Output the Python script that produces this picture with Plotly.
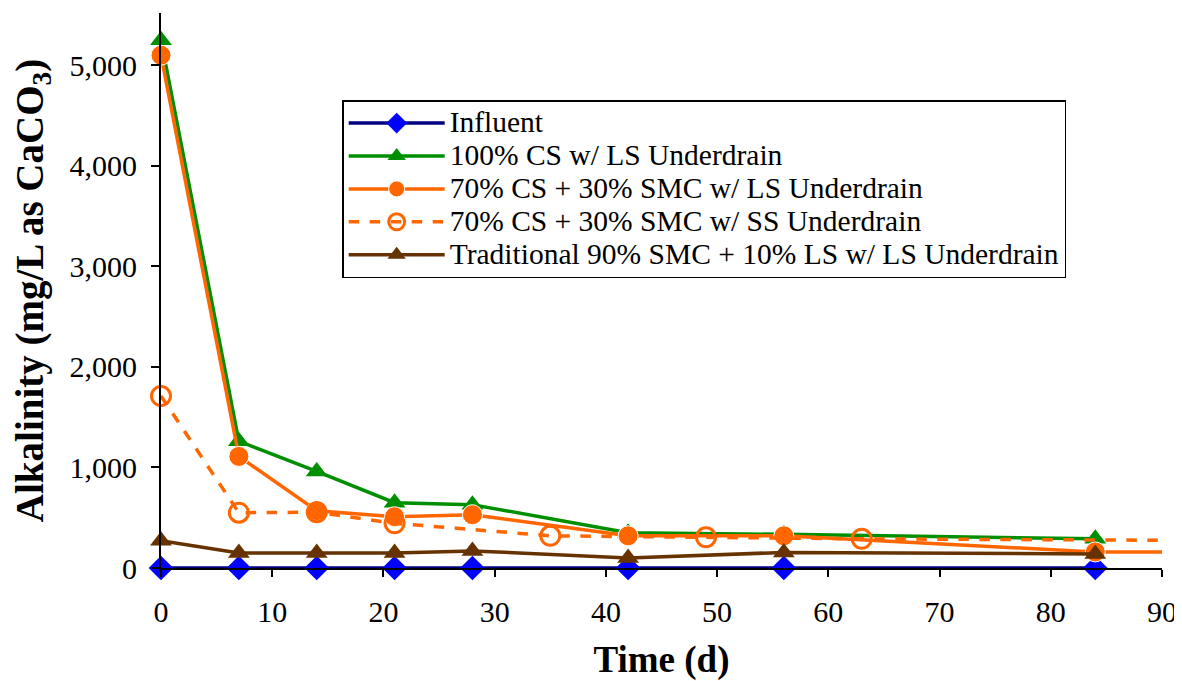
import plotly.graph_objects as go

days_main = [0, 7, 14, 21, 28, 42, 56, 84]
influent = [0, 0, 0, 0, 0, 0, 0, 0]
cs100_ls = [5250, 1260, 960, 650, 630, 350, 335, 290]
trad_ls = [270, 150, 150, 150, 170, 100, 155, 140]

days_cs70_ls = [0, 7, 14, 21, 28, 42, 56, 84, 91]
cs70_ls = [5100, 1110, 570, 510, 530, 320, 320, 160, 160]

days_cs70_ss = [0, 7, 14, 21, 35, 49, 63, 91]
cs70_ss = [1710, 550, 555, 445, 320, 305, 290, 275]

x_ticks = [0, 10, 20, 30, 40, 50, 60, 70, 80, 90]
y_ticks = [0, 1000, 2000, 3000, 4000, 5000]

names = [
    "Influent",
    "100% CS w/ LS Underdrain",
    "70% CS + 30% SMC w/ LS Underdrain",
    "70% CS + 30% SMC w/ SS Underdrain",
    "Traditional 90% SMC + 10% LS w/ LS Underdrain",
]

FONT = "Liberation Serif"


def legend_label(s):
    return '<span style="font-size:29.5px">' + s + "</span>"


fig = go.Figure()

fig.add_trace(go.Scatter(
    x=days_main, y=influent, name=legend_label(names[0]), mode="lines+markers",
    line=dict(color="#000080", width=3.5),
    marker=dict(symbol="diamond", size=19, color="#0000FF", opacity=1),
    cliponaxis=False))
fig.add_trace(go.Scatter(
    x=days_main, y=cs100_ls, name=legend_label(names[1]), mode="lines+markers",
    line=dict(color="#008F00", width=3.5),
    marker=dict(symbol="triangle-up", size=19, color="#008F00", opacity=1),
    cliponaxis=False))
fig.add_trace(go.Scatter(
    x=days_cs70_ls, y=cs70_ls, name=legend_label(names[2]), mode="lines+markers",
    line=dict(color="#FF6600", width=3.5),
    marker=dict(symbol="circle", size=[20] * (len(days_cs70_ls) - 1) + [0],
                color="#FF6600", opacity=1),
    cliponaxis=False))
fig.add_trace(go.Scatter(
    x=days_cs70_ss, y=cs70_ss, name=legend_label(names[3]), mode="lines+markers",
    line=dict(color="#FF6600", width=3.5, dash="dash"),
    marker=dict(symbol="circle-open", size=[19] * (len(days_cs70_ss) - 1) + [0],
                color="#FF6600", opacity=1, line=dict(width=3, color="#FF6600")),
    cliponaxis=False))
fig.add_trace(go.Scatter(
    x=days_main, y=trad_ls, name=legend_label(names[4]), mode="lines+markers",
    line=dict(color="#663300", width=3.5),
    marker=dict(symbol="triangle-up", size=19, color="#663300", opacity=1),
    cliponaxis=False))

fig.update_layout(
    width=1174, height=673,
    margin=dict(l=153, r=20, t=5, b=113, autoexpand=False),
    paper_bgcolor="white", plot_bgcolor="white",
    font=dict(family=FONT, size=28, color="black"),
    showlegend=True,
    legend=dict(
        x=0.181, y=0.843, xanchor="left", yanchor="top",
        bgcolor="white", bordercolor="black", borderwidth=1.5,
        font=dict(family=FONT, size=23, color="black"),
        tracegroupgap=0, itemwidth=96,
    ),
    xaxis=dict(
        range=[0, 90], tickvals=x_ticks, ticktext=[str(v) for v in x_ticks],
        showgrid=False, zeroline=False, showline=True, linecolor="black", linewidth=2,
        ticks="outside", ticklen=7, tickwidth=2, tickcolor="black",
        tickfont=dict(family=FONT, size=30), ticklabelstandoff=9, automargin=False,
        title=dict(text="<b>Time (d)</b>", font=dict(family=FONT, size=37), standoff=33),
    ),
    yaxis=dict(
        range=[0, 5520], tickvals=y_ticks, tickformat=",",
        showgrid=False, zeroline=False, showline=True, linecolor="black", linewidth=2,
        ticks="outside", ticklen=8, tickwidth=2, tickcolor="black",
        tickfont=dict(family=FONT, size=30), ticklabelstandoff=8, automargin=False,
        title=dict(text="<b>Alkalinity (mg/L as CaCO<sub>3</sub>)</b>",
                   font=dict(family=FONT, size=39), standoff=16),
    ),
)

fig.write_html("out.html")
